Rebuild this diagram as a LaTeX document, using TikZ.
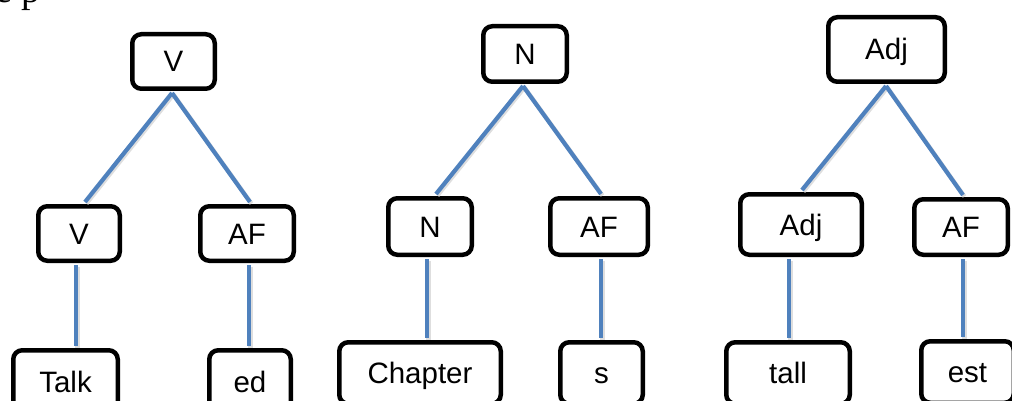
\documentclass[tikz,border=0pt]{standalone}
\usepackage{fontspec}
\setmainfont{Liberation Sans}
\newfontfamily\seriffont{Liberation Serif}
\definecolor{linkblue}{RGB}{79,129,189}
\begin{document}
\begin{tikzpicture}[x=1pt,y=-1pt,
  box/.style={draw=black, line width=4.5pt, rounded corners=9pt, inner sep=0pt,
    text height=21pt, text depth=0pt, font=\fontsize{29.5}{35}\selectfont},
  link/.style={draw=linkblue, line width=4.2pt,
    preaction={draw=black!13, line width=4.2pt, transform canvas={shift={(1.5pt,-1.5pt)}}}}]
\useasboundingbox (0,0) rectangle (1012,401);
% fragment of text from above
\node[anchor=base west, inner sep=0pt, font=\seriffont\fontsize{38}{40}\selectfont] (frag) at (-5,3) {e p};
% tree 1
\node[box, minimum width=82.5pt, minimum height=54.5pt] (t1) at (173.5,61.5) {V};
\node[box, minimum width=81.5pt, minimum height=54.5pt] (t1l) at (79,233.5) {V};
\node[box, minimum width=93.5pt, minimum height=54.5pt] (t1r) at (247,233.5) {AF};
\node[box, minimum width=104.5pt, minimum height=63.5pt] (t1ll) at (65.5,382) {Talk};
\node[box, minimum width=81.5pt, minimum height=63.5pt] (t1rr) at (250,382) {ed};
% tree 2
\node[box, minimum width=83.5pt, minimum height=55.5pt] (t2) at (525,54) {N};
\node[box, minimum width=83.5pt, minimum height=56.5pt] (t2l) at (430,226.5) {N};
\node[box, minimum width=97.5pt, minimum height=56.5pt] (t2r) at (599,226.5) {AF};
\node[box, minimum width=161.5pt, minimum height=61.5pt] (t2ll) at (420,373) {Chapter};
\node[box, minimum width=82.5pt, minimum height=61.5pt] (t2rr) at (601.5,373) {s};
% tree 3
\node[box, minimum width=116.5pt, minimum height=64.5pt] (t3) at (886.5,49.5) {Adj};
\node[box, minimum width=121.5pt, minimum height=60.5pt] (t3l) at (801,224.5) {Adj};
\node[box, minimum width=93.5pt, minimum height=55.5pt] (t3r) at (961,227) {AF};
\node[box, minimum width=123.5pt, minimum height=61.5pt] (t3ll) at (788,373) {tall};
\node[box, minimum width=92.5pt, minimum height=61.5pt] (t3rr) at (967.5,372) {est};
% connectors
\draw[link] ([xshift=-1.5pt,yshift=-2pt]t1.south) -- ([xshift=6pt,yshift=2pt]t1l.north);
\draw[link] ([xshift=-1.5pt,yshift=-2pt]t1.south) -- ([xshift=3pt,yshift=2pt]t1r.north);
\draw[link] ([xshift=-3pt,yshift=-2pt]t1l.south) -- ([xshift=10.5pt,yshift=2pt]t1ll.north);
\draw[link] ([xshift=2pt,yshift=-2pt]t1r.south) -- ([xshift=-1pt,yshift=2pt]t1rr.north);
\draw[link] ([xshift=-2pt,yshift=-2pt]t2.south) -- ([xshift=6pt,yshift=2pt]t2l.north);
\draw[link] ([xshift=-2pt,yshift=-2pt]t2.south) -- ([xshift=2pt,yshift=2pt]t2r.north);
\draw[link] ([xshift=-3pt,yshift=-2pt]t2l.south) -- ([xshift=7pt,yshift=2pt]t2ll.north);
\draw[link] ([xshift=2pt,yshift=-2pt]t2r.south) -- ([xshift=-0.5pt,yshift=2pt]t2rr.north);
\draw[link] ([xshift=-0.5pt,yshift=-2pt]t3.south) -- ([xshift=1pt,yshift=2pt]t3l.north);
\draw[link] ([xshift=-0.5pt,yshift=-2pt]t3.south) -- ([xshift=2pt,yshift=2pt]t3r.north);
\draw[link] ([xshift=-12pt,yshift=-2pt]t3l.south) -- ([xshift=1pt,yshift=2pt]t3ll.north);
\draw[link] ([xshift=2pt,yshift=-2pt]t3r.south) -- ([xshift=-4.5pt,yshift=2pt]t3rr.north);
\end{tikzpicture}
\end{document}
